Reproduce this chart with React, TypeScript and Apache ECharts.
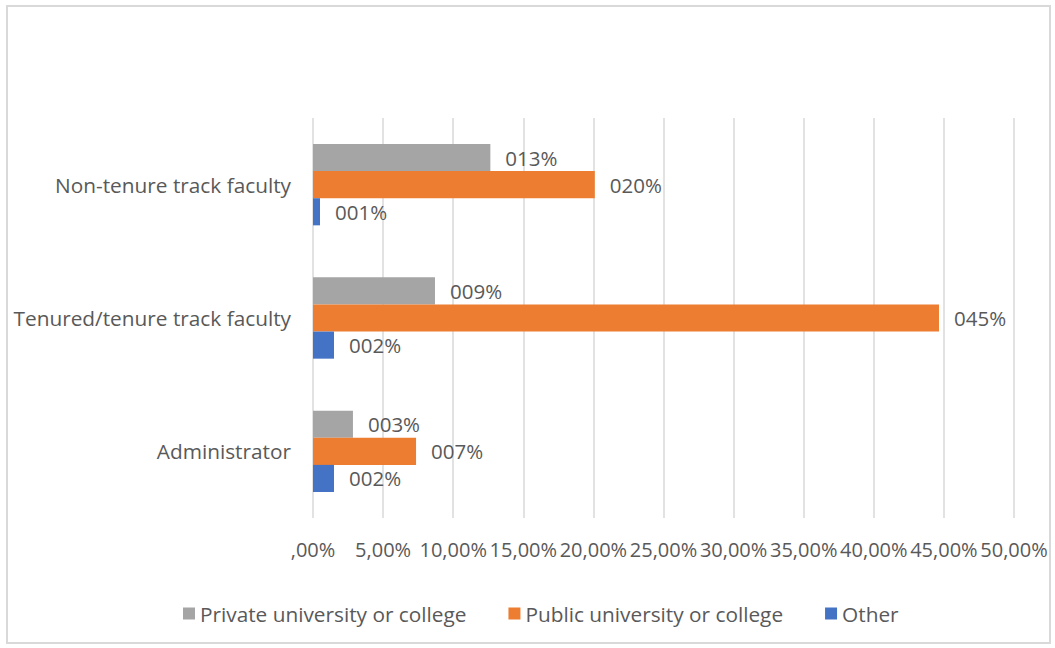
import React, { useEffect, useRef } from "react";
import * as echarts from "echarts";

const categories = ["Administrator", "Tenured/tenure track faculty", "Non-tenure track faculty"];
const privateValues = [2.85, 8.7, 12.65];
const publicValues = [7.35, 44.65, 20.1];
const otherValues = [1.5, 1.5, 0.5];
const seriesNames = ["Private university or college", "Public university or college", "Other"];
const colors = ["#A5A5A5", "#ED7D31", "#4472C4"];

const FONT = "'Open Sans', sans-serif";
const TEXT = "#595959";

export default function App() {
  const ref = useRef<HTMLDivElement>(null);
  useEffect(() => {
    const chart = echarts.init(ref.current!, null, { renderer: "svg" });
    const labelFmt = (p: any) => String(Math.round(p.value)).padStart(3, "0") + "%";
    const mk = (name: string, data: number[], color: string) => ({
      name,
      type: "bar",
      data,
      barGap: "0%",
      barCategoryGap: "39%",
      itemStyle: { color },
      label: {
        show: true,
        position: "right",
        distance: 15,
        formatter: labelFmt,
        color: TEXT,
        fontSize: 20.5,
        fontFamily: FONT,
      },
    });
    chart.setOption({
      animation: false,
      backgroundColor: "#fff",
      graphic: [
        {
          type: "rect",
          shape: { x: 7, y: 6, width: 1043, height: 637 },
          style: { fill: "none", stroke: "#D9D9D9", lineWidth: 2 },
          silent: true,
        },
      ],
      legend: {
        data: seriesNames,
        top: 598,
        left: 178,
        itemWidth: 12,
        itemHeight: 12,
        itemGap: 42,
        icon: "rect",
        textStyle: { color: TEXT, fontSize: 20.8, fontFamily: FONT },
      },
      grid: { left: 313, right: 41, top: 118, bottom: 130, containLabel: false },
      xAxis: {
        type: "value",
        min: 0,
        max: 50,
        interval: 5,
        axisLine: { show: false },
        axisTick: { show: false },
        splitLine: { lineStyle: { color: "#D9D9D9", width: 1.5 } },
        axisLabel: {
          color: TEXT,
          fontSize: 20,
          fontFamily: FONT,
          margin: 21,
          hideOverlap: false,
          formatter: (v: number) => (v === 0 ? ",00%" : v.toFixed(2).replace(".", ",") + "%"),
        },
      },
      yAxis: {
        type: "category",
        data: categories,
        axisLine: { show: false },
        axisTick: { show: false },
        axisLabel: { color: TEXT, fontSize: 20.8, fontFamily: FONT, margin: 22 },
      },
      series: [
        mk(seriesNames[0], privateValues, colors[0]),
        mk(seriesNames[1], publicValues, colors[1]),
        mk(seriesNames[2], otherValues, colors[2]),
      ],
    });
    return () => chart.dispose();
  }, []);
  return (
    <div
      ref={ref}
      style={{ position: "fixed", left: 0, top: 0, width: 1055, height: 648 }}
    />
  );
}
